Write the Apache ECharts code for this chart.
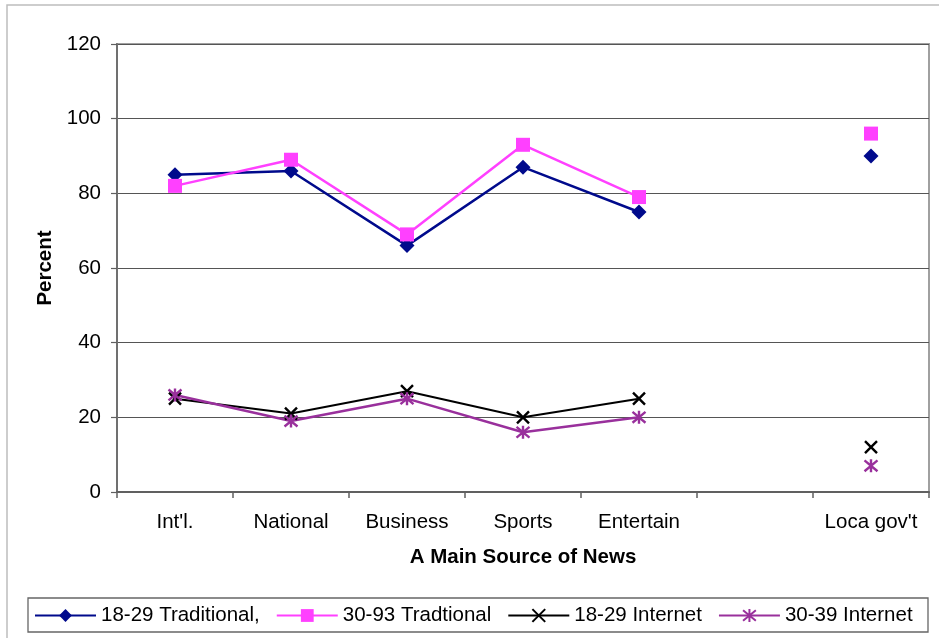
<!DOCTYPE html>
<html>
<head>
<meta charset="utf-8">
<script src="https://cdn.jsdelivr.net/npm/echarts@6/dist/echarts.min.js"></script>
<style>
  html, body { margin: 0; padding: 0; background: #fff; }
  #chart { width: 939px; height: 638px; }
</style>
</head>
<body>
<div id="chart"></div>
<script>
// Categories (one empty slot before the local government column)
var categories = ["Int'l.", 'National', 'Business', 'Sports', 'Entertain', '', "Loca gov't"];

// Series values, percent
var trad1829 = [85, 86, 66, 87, 75, null, 90];
var trad3093 = [82, 89, 69, 93, 79, null, 96];
var net1829 = [25, 21, 27, 20, 25, null, 12];
var net3039 = [26, 19, 25, 16, 20, null, 7];

var seriesNames = ['18-29 Traditional,', '30-93 Tradtional', '18-29 Internet', '30-39 Internet'];

// Y axis ticks
var yMin = 0, yMax = 120, yStep = 20;

var FONT = '"Liberation Sans", Arial, sans-serif';
var X_PATH = 'path://M0,0L10,10M10,0L0,10';
var STAR_PATH = 'path://M0,0L10,10M10,0L0,10M5,-1L5,11';

function lineSeries(name, data, color, symbol, size, width, stroked) {
  return {
    name: name,
    type: 'line',
    data: data,
    connectNulls: false,
    showAllSymbol: true,
    symbol: symbol,
    symbolSize: size,
    lineStyle: { color: color, width: width },
    itemStyle: stroked
      ? { color: color, borderColor: color, borderWidth: 2.4 }
      : { color: color, borderWidth: 0 },
    emphasis: { disabled: true },
    animation: false,
    z: 3
  };
}

var chart = echarts.init(document.getElementById('chart'), null, { renderer: 'canvas' });
chart.setOption({
  backgroundColor: '#fff',
  textStyle: { fontFamily: FONT },
  graphic: [
    { type: 'rect', shape: { x: 7, y: 5, width: 950, height: 650 },
      style: { fill: 'none', stroke: '#bdbdbd', lineWidth: 1.5 }, z: 0 },
    { type: 'rect', shape: { x: 28, y: 598, width: 900, height: 34 },
      style: { fill: '#fff', stroke: '#666', lineWidth: 1.3 }, z: 0 }
  ],
  grid: {
    left: 117, right: 10, top: 44, bottom: 146,
    show: true, borderColor: '#a0a0a0', borderWidth: 2, backgroundColor: '#fff'
  },
  legend: {
    left: 34, top: 605, padding: 0,
    itemWidth: 61, itemHeight: 16, itemGap: 16,
    data: seriesNames,
    textStyle: { fontFamily: FONT, fontSize: 20.5, color: '#000' },
    selectedMode: false
  },
  xAxis: {
    type: 'category',
    data: categories,
    boundaryGap: true,
    name: 'A Main Source of News',
    nameLocation: 'middle',
    nameGap: 55,
    nameTextStyle: { fontFamily: FONT, fontSize: 20.5, fontWeight: 'bold', color: '#000' },
    axisLine: { lineStyle: { color: '#606060', width: 2 } },
    axisTick: { show: true, interval: 0, length: 6, lineStyle: { color: '#606060', width: 1.5 } },
    axisLabel: { interval: 0, margin: 20, fontFamily: FONT, fontSize: 20.5, color: '#000' },
    splitLine: { show: false }
  },
  yAxis: {
    type: 'value',
    min: yMin, max: yMax, interval: yStep,
    name: 'Percent',
    nameLocation: 'middle',
    nameGap: 61,
    nameRotate: 90,
    nameTextStyle: { fontFamily: FONT, fontSize: 20.5, fontWeight: 'bold', color: '#000' },
    axisLine: { show: true, lineStyle: { color: '#707070', width: 2 } },
    axisTick: { show: true, length: 6, lineStyle: { color: '#606060', width: 1.2 } },
    axisLabel: { margin: 16, fontFamily: FONT, fontSize: 20.5, color: '#000' },
    splitLine: { show: true, lineStyle: { color: '#555', width: 1 } }
  },
  series: [
    lineSeries(seriesNames[0], trad1829, '#000a8c', 'diamond', 15, 2.5, false),
    lineSeries(seriesNames[1], trad3093, '#ff40ff', 'rect', 14, 2.5, false),
    lineSeries(seriesNames[2], net1829, '#000000', X_PATH, 12, 2, true),
    lineSeries(seriesNames[3], net3039, '#99309c', STAR_PATH, 13, 2.5, true)
  ]
});
</script>
</body>
</html>
